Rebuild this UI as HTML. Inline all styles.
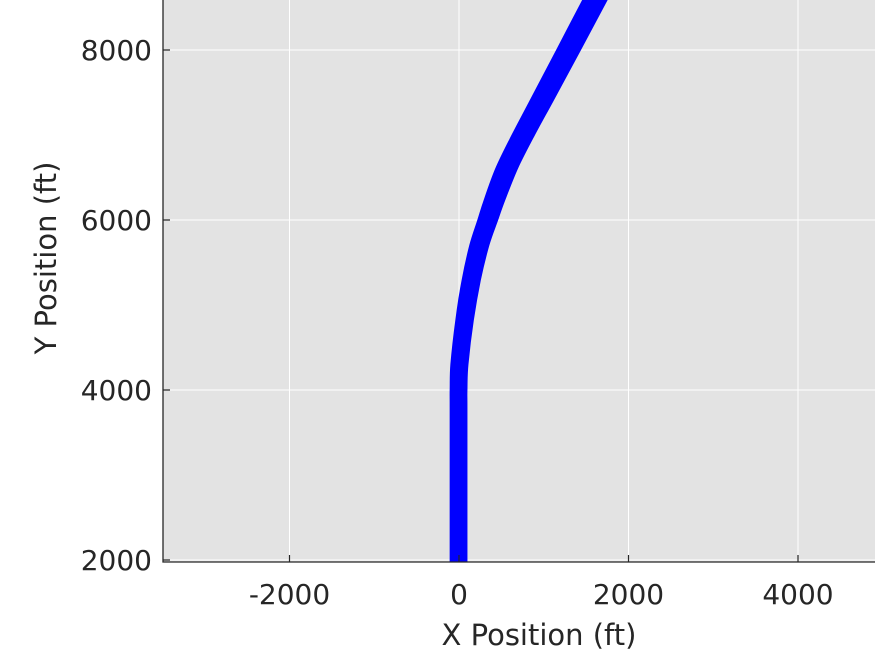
<!DOCTYPE html>
<html><head><meta charset="utf-8"><style>
html,body{margin:0;padding:0;background:#fff;}
text{font-family:"DejaVu Sans","Liberation Sans",sans-serif;fill:#262626;}
</style></head><body>
<svg id="chart" width="875" height="656" viewBox="0 0 875 656" xmlns="http://www.w3.org/2000/svg">
<rect x="163" y="0" width="712" height="562" fill="#e3e3e3"/>
<g id="grid"></g>
<g id="series"></g>
<g id="axes"></g>
<text x="539" y="645" font-size="29" text-anchor="middle">X Position (ft)</text>
<text transform="translate(56,258) rotate(-90)" font-size="29" text-anchor="middle">Y Position (ft)</text>
</svg>
<script>
const xTicks=[-2000,0,2000,4000];
const yTicks=[2000,4000,6000,8000];
const pathY=[1976,3000,3800,4000,4300,4824,5294,5700,6000,6235,6620,7000,7410,8000,8700];
const pathX=[0,0,0,0,10,71,150,245,345,425,575,765,985,1300,1670];
const spread=[1,1,1,1,1.02,1.05,1.1,1.15,1.2,1.25,1.32,1.36,1.4,1.45,1.5];
const offsets=[-95,-80,-65,-50,-38,-25,-12,0,12,25,40,55,70,85];
const sx=v=>459+v*0.08475;
const sy=v=>560-(v-2000)*0.085;
const ns="http://www.w3.org/2000/svg";
const grid=document.getElementById('grid'),axes=document.getElementById('axes'),series=document.getElementById('series');
function mk(tag,attrs,parent){const e=document.createElementNS(ns,tag);for(const k in attrs)e.setAttribute(k,attrs[k]);parent.appendChild(e);return e;}
xTicks.forEach(t=>{
  const l=mk('line',{x1:sx(t),x2:sx(t),y1:0,y2:562,stroke:'#fff','stroke-width':1},grid);
  
  
  const tk=mk('line',{x1:sx(t),x2:sx(t),y1:562,y2:555,stroke:'#262626','stroke-width':1.2},axes);
  
  
  const tx=mk('text',{x:sx(t),y:604,'font-size':28,'text-anchor':'middle'},axes);
  tx.textContent=t;
  
  
});
yTicks.forEach(t=>{
  const l=mk('line',{x1:163,x2:875,y1:sy(t),y2:sy(t),stroke:'#fff','stroke-width':1},grid);
  
  
  const tk=mk('line',{x1:163,x2:170,y1:sy(t),y2:sy(t),stroke:'#262626','stroke-width':1.2},axes);
  
  
  const tx=mk('text',{x:152,y:sy(t)+10,'font-size':28,'text-anchor':'end'},axes);
  tx.textContent=t;
  
  
});
const ax=mk('path',{d:'M163,0 V562 H875',fill:'none',stroke:'#262626','stroke-width':1.3},axes);


function smoothPath(pts){
  let d='M'+pts[0][0].toFixed(1)+','+pts[0][1].toFixed(1);
  for(let i=0;i<pts.length-1;i++){
    const p0=pts[Math.max(0,i-1)],p1=pts[i],p2=pts[i+1],p3=pts[Math.min(pts.length-1,i+2)];
    const c1=[p1[0]+(p2[0]-p0[0])/6,p1[1]+(p2[1]-p0[1])/6];
    const c2=[p2[0]-(p3[0]-p1[0])/6,p2[1]-(p3[1]-p1[1])/6];
    d+=' C'+c1[0].toFixed(1)+','+c1[1].toFixed(1)+' '+c2[0].toFixed(1)+','+c2[1].toFixed(1)+' '+p2[0].toFixed(1)+','+p2[1].toFixed(1);
  }
  return d;
}
offsets.forEach(o=>{
  const pts=pathY.map((y,i)=>[sx(pathX[i]+o*spread[i]),sy(y)]);
  const p=mk('path',{d:smoothPath(pts),fill:'none',stroke:'#0000ff','stroke-width':2.5,'stroke-linejoin':'round'},series);
  
  
});
</script>
</body></html>
